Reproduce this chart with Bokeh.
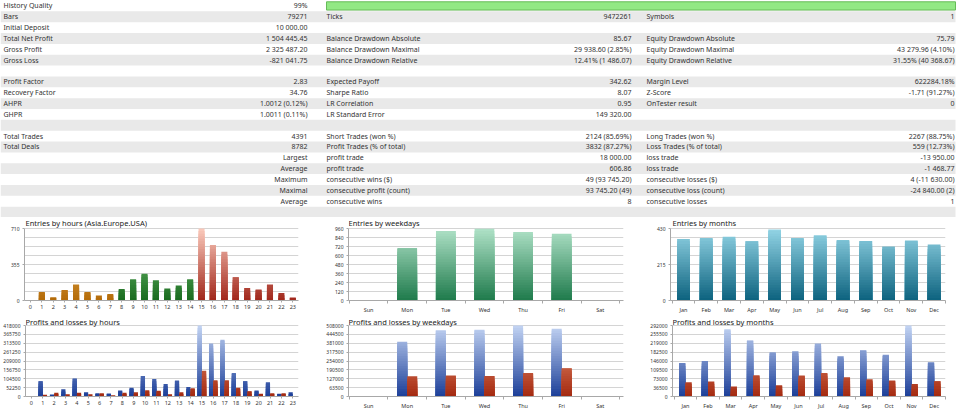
from bokeh.plotting import figure
from bokeh.models import Range1d, FixedTicker, BasicTickFormatter, Label
from bokeh.layouts import column, row
from bokeh.embed import file_html
from bokeh.resources import INLINE
from bokeh.core.properties import value

FONT = "Noto Sans"
TXT = "#333333"

# ---------------- data: statistics table ----------------
col1_labels = ["History Quality", "Bars", "Initial Deposit", "Total Net Profit", "Gross Profit", "Gross Loss", "",
               "Profit Factor", "Recovery Factor", "AHPR", "GHPR", "", "Total Trades", "Total Deals",
               "", "", "", "", ""]
col1_values = ["99%", "79271", "10 000.00", "1 504 445.45", "2 325 487.20", "-821 041.75", "",
               "2.83", "34.76", "1.0012 (0.12%)", "1.0011 (0.11%)", "", "4391", "8782",
               "Largest", "Average", "Maximum", "Maximal", "Average"]
col2_labels = ["", "Ticks", "", "Balance Drawdown Absolute", "Balance Drawdown Maximal", "Balance Drawdown Relative", "",
               "Expected Payoff", "Sharpe Ratio", "LR Correlation", "LR Standard Error", "",
               "Short Trades (won %)", "Profit Trades (% of total)", "profit trade", "profit trade",
               "consecutive wins ($)", "consecutive profit (count)", "consecutive wins"]
col2_values = ["", "9472261", "", "85.67", "29 938.60 (2.85%)", "12.41% (1 486.07)", "",
               "342.62", "8.07", "0.95", "149 320.00", "",
               "2124 (85.69%)", "3832 (87.27%)", "18 000.00", "606.86",
               "49 (93 745.20)", "93 745.20 (49)", "8"]
col3_labels = ["", "Symbols", "", "Equity Drawdown Absolute", "Equity Drawdown Maximal", "Equity Drawdown Relative", "",
               "Margin Level", "Z-Score", "OnTester result", "", "",
               "Long Trades (won %)", "Loss Trades (% of total)", "loss trade", "loss trade",
               "consecutive losses ($)", "consecutive loss (count)", "consecutive losses"]
col3_values = ["", "1", "", "75.79", "43 279.96 (4.10%)", "31.55% (40 368.67)", "",
               "622284.18%", "-1.71 (91.27%)", "0", "", "",
               "2267 (88.75%)", "559 (12.73%)", "-13 950.00", "-1 468.77",
               "4 (-11 630.00)", "-24 840.00 (2)", "1"]

# ---------------- data: charts ----------------
hours = list(range(24))
hour_labels = [str(h) for h in hours]
entries_by_hour = [0, 83, 33, 103, 159, 83, 50, 63, 113, 209, 265, 199, 119, 149, 209,
                   710, 547, 481, 229, 123, 109, 159, 73, 30]
profit_by_hour = [0, 89800, 11700, 43000, 105500, 25400, 19500, 17600, 35200, 50800, 121000, 103500,
                  74200, 93700, 56600, 418000, 312500, 334000, 138700, 89800, 35200, 84000, 15600, 25400]
loss_by_hour = [0, 9800, 21500, 13700, 21500, 13700, 19500, 7800, 21500, 25400, 37100, 33200,
                13700, 25400, 48800, 152300, 95700, 95700, 50800, 31200, 15600, 19500, 19500, 0]

weekdays = ["Sun", "Mon", "Tue", "Wed", "Thu", "Fri", "Sat"]
entries_by_weekday = [0, 700, 928, 958, 915, 890, 0]
profit_by_weekday = [0, 391700, 472400, 477200, 508000, 484300, 0]
loss_by_weekday = [0, 144800, 149600, 147200, 168600, 201800, 0]

months = ["Jan", "Feb", "Mar", "Apr", "May", "Jun", "Jul", "Aug", "Sep", "Oct", "Nov", "Dec"]
entries_by_month = [368, 374, 380, 354, 424, 374, 390, 362, 356, 322, 358, 334]
profit_by_month = [137800, 146000, 277000, 230600, 181500, 185600, 218300, 165100, 189700, 171900, 292000, 140500]
loss_by_month = [58700, 61400, 40900, 87300, 46400, 86000, 96900, 79100, 71000, 65500, 51900, 62800]

# y-axis tick labels of each chart
yticks_entries_hours = [0, 355, 710]
yticks_entries_weekdays = [0, 120, 240, 360, 480, 600, 720, 840, 960]
yticks_entries_months = [0, 215, 430]
yticks_pl_hours = [0, 52250, 104500, 156750, 209000, 261250, 313500, 365750, 418000]
yticks_pl_weekdays = [0, 63500, 127000, 190500, 254000, 317500, 381000, 444500, 508000]
yticks_pl_months = [0, 36500, 73000, 109500, 146000, 182500, 219000, 255500, 292000]

# trading sessions (hour ranges) for the hour chart colours
SESSIONS = [("Asia", 0, 8), ("Europe", 8, 15), ("USA", 15, 24)]


# ---------------- helpers ----------------
def _rgb(h):
    return tuple(int(h[i:i + 2], 16) for i in (1, 3, 5))


def _mix(a, b, t):
    ca, cb = _rgb(a), _rgb(b)
    return "#%02x%02x%02x" % tuple(int(round(ca[i] + (cb[i] - ca[i]) * t)) for i in range(3))


def gradient_vbar(p, xs, vals, width, ymax, c_bot, c_top, n=28):
    """Bars whose colour lightens with height: overlapping layers, lightest (tallest) first."""
    x, top, col = [], [], []
    for k in reversed(range(n)):
        lo = ymax * k / n
        hi = ymax * (k + 1) / n
        c = _mix(c_bot, c_top, (k + 0.5) / n)
        for xi, v in zip(xs, vals):
            if v > lo:
                x.append(xi)
                top.append(min(hi, v))
                col.append(c)
    p.vbar(x=x, bottom=0, top=top, width=width, fill_color=col, line_color=None)


def minor_of(ticks, parts):
    out = []
    for a, b in zip(ticks[:-1], ticks[1:]):
        for j in range(1, parts):
            out.append(a + (b - a) * j / parts)
    return out


def chart(title, width, height, xr, yticks, yminor, borders, head, title_dx, title_dy):
    """head = pixels between the figure top and the top grid line (room for the title)."""
    l, r, b = borders
    frame_h = height - b
    ymax = yticks[-1]
    p = figure(width=width, height=height, x_range=Range1d(*xr),
               y_range=Range1d(0, ymax * frame_h / (frame_h - head)),
               output_backend="svg", toolbar_location=None,
               min_border_left=l, min_border_right=r, min_border_top=0, min_border_bottom=b)
    p.add_layout(Label(x=title_dx, y=frame_h - title_dy, x_units="screen", y_units="screen", text=title,
                       text_font=FONT, text_font_size="7.5px", text_color="#1a1a1a",
                       text_baseline="middle", text_align="left"))
    p.outline_line_color = None
    p.background_fill_color = "white"
    p.border_fill_color = "white"
    yt = FixedTicker(ticks=yticks, minor_ticks=yminor)
    p.yaxis.ticker = yt
    p.ygrid.ticker = yt
    p.yaxis.bounds = (0, ymax)
    p.ygrid.grid_line_color = "#d4d4d4"
    p.ygrid.minor_grid_line_color = "#d4d4d4" if yminor else None
    p.xgrid.visible = False
    p.yaxis.formatter = BasicTickFormatter(use_scientific=False)
    for ax in (p.xaxis, p.yaxis):
        ax.axis_line_color = "#a8a8a8"
        ax.major_tick_line_color = "#a8a8a8"
        ax.minor_tick_line_color = "#a8a8a8"
        ax.major_label_text_font = FONT
        ax.major_label_text_color = TXT
        ax.major_tick_in = 0
        ax.minor_tick_in = 0
    p.yaxis.major_tick_out = 2
    p.yaxis.minor_tick_out = 0
    p.yaxis.major_label_text_font_size = "5px"
    p.yaxis.major_label_standoff = 3
    p.xaxis.major_label_text_font_size = "5.5px"
    p.xaxis.major_label_standoff = 2
    return p


def category_axis(p, names):
    idx = list(range(len(names)))
    p.xaxis.ticker = FixedTicker(ticks=idx, minor_ticks=[i - 0.5 for i in range(len(names) + 1)])
    p.xaxis.major_label_overrides = {i: n for i, n in zip(idx, names)}
    p.xaxis.major_tick_out = 0
    p.xaxis.minor_tick_out = 3


def hour_axis(p):
    p.xaxis.ticker = FixedTicker(ticks=hours)
    p.xaxis.major_label_overrides = {h: s for h, s in zip(hours, hour_labels)}
    p.xaxis.major_tick_out = 2


# ---------------- table ----------------
NROWS = len(col1_labels) + 1
tbl = figure(width=960, height=217, x_range=Range1d(0, 960), y_range=Range1d(NROWS, 0),
             output_backend="svg", toolbar_location=None, min_border=0,
             x_axis_location=None, y_axis_location=None)
tbl.grid.visible = False
tbl.outline_line_color = None
rows_idx = list(range(len(col1_labels)))
stripes = [i for i in range(NROWS) if i % 2 == 1]
tbl.hbar(y=[i + 0.5 for i in stripes], left=0, right=955, height=1, fill_color="#e9e9e9", line_color=None)
tbl.quad(left=[326], right=[955], top=[0.12], bottom=[0.88], fill_color="#92e884", line_color="#66bb58",
         line_width=1)
yc = [i + 0.5 for i in rows_idx]
txt_kw = dict(text_baseline="middle", text_font=value(FONT), text_font_size="7px", text_color=TXT)
for xl, xv, labs, vals in ((3, 307, col1_labels, col1_values),
                           (326, 631, col2_labels, col2_values),
                           (646, 954, col3_labels, col3_values)):
    tbl.text(x=[xl] * len(labs), y=yc, text=labs, text_align="left", **txt_kw)
    tbl.text(x=[xv] * len(vals), y=yc, text=vals, text_align="right", **txt_kw)

# ---------------- charts ----------------
H = 100
XR_H = (-0.52, 23.5)
XR_W = (-0.52, 6.6)
XR_M = (-0.57, 11.5)
TOP_HEAD, TOP_BOT, TOP_TDY = 11, 17, 5.0   # upper chart row
BOT_HEAD, BOT_BOT, BOT_TDY = 8, 21, 4.2    # lower chart row

# Entries by hours
c1 = chart("Entries by hours (Asia.Europe.USA)", 320, H, XR_H, yticks_entries_hours,
           minor_of(yticks_entries_hours, 4), (24, 22, TOP_BOT), TOP_HEAD, 1, TOP_TDY)
hour_axis(c1)
session_colors = {"Asia": ("#b36a08", "#f8cb74"), "Europe": ("#196a1e", "#86d486"), "USA": ("#a0261a", "#fbcbbd")}
for name, h0, h1 in SESSIONS:
    hs = [h for h in hours if h0 <= h < h1]
    gradient_vbar(c1, hs, [entries_by_hour[h] for h in hs], 0.53, yticks_entries_hours[-1], *session_colors[name])

# Entries by weekdays
c2 = chart("Entries by weekdays", 320, H, XR_W, yticks_entries_weekdays, [],
           (28, 17, TOP_BOT), TOP_HEAD, 0, TOP_TDY)
category_axis(c2, weekdays)
gradient_vbar(c2, list(range(7)), entries_by_weekday, 0.51, yticks_entries_weekdays[-1], "#1e7a4b", "#b0e2c8")

# Entries by months
c3 = chart("Entries by months", 320, H, XR_M, yticks_entries_months,
           minor_of(yticks_entries_months, 4), (30, 15, TOP_BOT), TOP_HEAD, 2, TOP_TDY)
category_axis(c3, months)
gradient_vbar(c3, list(range(12)), entries_by_month, 0.56, yticks_entries_months[-1], "#0c627e", "#94d5e6")

BLUE = ("#1b3e98", "#c3d4f3")
RED = ("#a42910", "#f4a482")

# Profits and losses by hours
c4 = chart("Profits and losses by hours", 320, H, XR_H, yticks_pl_hours, [],
           (25, 22, BOT_BOT), BOT_HEAD, 0, BOT_TDY)
hour_axis(c4)
gradient_vbar(c4, [h - 0.19 for h in hours], profit_by_hour, 0.37, yticks_pl_hours[-1], *BLUE)
gradient_vbar(c4, [h + 0.19 for h in hours], loss_by_hour, 0.37, yticks_pl_hours[-1], *RED)

# Profits and losses by weekdays
c5 = chart("Profits and losses by weekdays", 320, H, XR_W, yticks_pl_weekdays, [],
           (28, 17, BOT_BOT), BOT_HEAD, 0, BOT_TDY)
category_axis(c5, weekdays)
gradient_vbar(c5, [i - 0.13 for i in range(7)], profit_by_weekday, 0.26, yticks_pl_weekdays[-1], *BLUE)
gradient_vbar(c5, [i + 0.13 for i in range(7)], loss_by_weekday, 0.26, yticks_pl_weekdays[-1], *RED)

# Profits and losses by months
c6 = chart("Profits and losses by months", 320, H, XR_M, yticks_pl_months, [],
           (32, 15, BOT_BOT), BOT_HEAD, 0, BOT_TDY)
category_axis(c6, months)
gradient_vbar(c6, [i - 0.14 for i in range(12)], profit_by_month, 0.28, yticks_pl_months[-1], *BLUE)
gradient_vbar(c6, [i + 0.14 for i in range(12)], loss_by_month, 0.28, yticks_pl_months[-1], *RED)

layout = column(tbl, row(c1, c2, c3), row(c4, c5, c6))

with open("out.html", "w") as f:
    f.write(file_html(layout, INLINE))
